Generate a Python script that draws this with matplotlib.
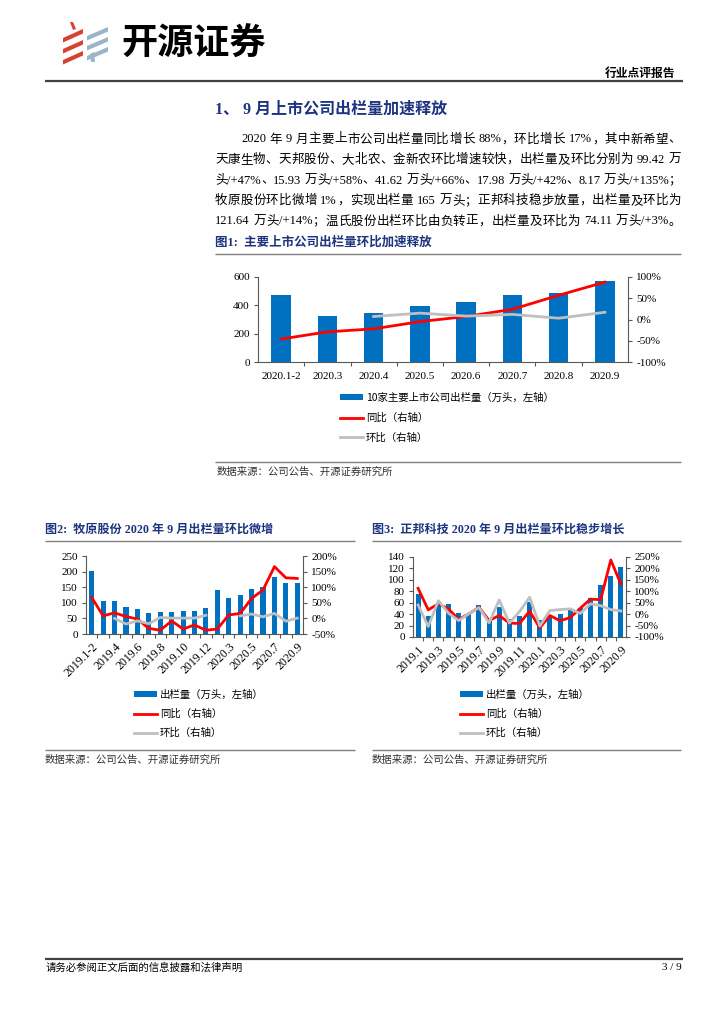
import re
import numpy as np
import matplotlib
matplotlib.use("Agg")
import matplotlib.pyplot as plt
from matplotlib.patches import Polygon
from matplotlib.ticker import FuncFormatter

plt.rcParams['font.family'] = ['Liberation Serif', 'Noto Sans CJK SC']
plt.rcParams['axes.unicode_minus'] = False

W, H = 724, 1024
nan = np.nan

# ---------------- data ----------------
f1_months = ["2020.1-2", "2020.3", "2020.4", "2020.5", "2020.6", "2020.7", "2020.8", "2020.9"]
f1_volume = [476, 325, 346, 395, 425, 472, 484, 570]
f1_yoy = [-46, -29, -22, -5, 7, 24, 57, 88]
f1_mom = [nan, nan, 7, 15, 8, 12, 3, 17]

f2_months = ["2019.1-2", "2019.3", "2019.4", "2019.5", "2019.6", "2019.7", "2019.8", "2019.9",
             "2019.10", "2019.11", "2019.12", "2020.1-2", "2020.3", "2020.4", "2020.5",
             "2020.6", "2020.7", "2020.8", "2020.9"]
f2_volume = [203, 105, 105, 88, 79, 67, 71, 72, 73, 74, 82, 140, 116, 124, 145, 152, 182, 164, 165]
f2_yoy = [67, 8, 18, 6, -2, -32, -38, -8, -34, -21, -38, -34, 11, 16, 64, 91, 166, 130, 128]
f2_mom = [nan, nan, 0, -18, -8, -17, 3, 1, 1, 1, 10, nan, nan, 8, 14, 5, 16, -9, 1]

f3_months = ["2019.1", "2019.2", "2019.3", "2019.4", "2019.5", "2019.6", "2019.7", "2019.8",
             "2019.9", "2019.10", "2019.11", "2019.12", "2020.1", "2020.2", "2020.3", "2020.4",
             "2020.5", "2020.6", "2020.7", "2020.8", "2020.9"]
f3_volume = [76, 36, 57, 58, 42, 41, 56, 28, 53, 31, 36, 62, 30, 36, 40, 47, 50, 69, 91, 107, 122]
f3_yoy = [113, 19, 45, 23, -23, 1, 30, -28, -6, -39, -41, 13, -60, -6, -29, -15, 26, 66, 63, 237, 131]
f3_mom = [40, -54, 59, 4, -28, 1, 29, -38, 62, -39, 11, 74, -52, 16, 20, 23, 3, 45, 37, 20, 14]

body_lines = [
    "2020 年 9 月主要上市公司出栏量同比增长 88%，环比增长 17%，其中新希望、",
    "天康生物、天邦股份、大北农、金新农环比增速较快，出栏量及环比分别为 99.42 万",
    "头/+47%、15.93 万头/+58%、41.62 万头/+66%、17.98 万头/+42%、8.17 万头/+135%；",
    "牧原股份环比微增 1%，实现出栏量 165 万头；正邦科技稳步放量，出栏量及环比为",
    "121.64 万头/+14%；温氏股份出栏环比由负转正，出栏量及环比为 74.11 万头/+3%。",
]

BLUE = "#0070C0"
RED = "#FF0000"
GRAY = "#BFBFBF"
NAVY = "#1F3480"
SPINE = "#595959"
CJK = ['Noto Sans CJK SC', 'DejaVu Sans']

fig = plt.figure(figsize=(W / 100, H / 100), dpi=100)
bg = fig.add_axes([0, 0, 1, 1])
bg.set_xlim(0, W)
bg.set_ylim(H, 0)
bg.axis('off')


def px_axes(x0, y0, x1, y1):
    return fig.add_axes([x0 / W, 1 - y1 / H, (x1 - x0) / W, (y1 - y0) / H])


def hline(y, x0, x1, color="#808080", lw=1.0):
    bg.plot([x0, x1], [y, y], color=color, lw=lw, solid_capstyle='butt')


# ---------------- header / logo ----------------
red_c, blue_c = "#D8412F", "#9DB3C6"
for k in range(3):
    yk = 29 + 11 * k
    bg.add_patch(Polygon([(63, yk + 9), (83, yk), (83, yk + 4.5), (63, yk + 13.5)], color=red_c, lw=0))
    yb = 27 + 10 * k
    bg.add_patch(Polygon([(87, yb + 9), (108, yb), (108, yb + 4.5), (87, yb + 13.5)], color=blue_c, lw=0))
bg.add_patch(Polygon([(70, 22), (73, 22), (76, 29), (73, 30)], color=red_c, lw=0))
bg.add_patch(Polygon([(90, 54), (94, 52), (95, 62), (91, 62)], color=blue_c, lw=0))
bg.text(121, 44, "开源证券", fontsize=26, fontweight='bold', family=CJK, va='center', ha='left')
bg.text(675, 73, "行业点评报告", fontsize=8.5, fontweight='bold', family=CJK, va='center', ha='right')
hline(80.5, 45, 683, color="#404040", lw=1.6)

# ---------------- section title & body ----------------
bg.text(215, 110, "1、 9 月上市公司出栏量加速释放", fontsize=11.5, fontweight='bold', color=NAVY,
        va='center', ha='left')

renderer = fig.canvas.get_renderer()


def justify(line, x0, x1, y, size):
    toks = re.findall(r"[!-~]+| |[^ ]", line)
    sp = size * 100 / 72 * 0.25
    arts, widths = [], []
    for t in toks:
        if t == " ":
            arts.append(None)
            widths.append(sp)
        else:
            a = bg.text(0, y, t, fontsize=size, va='baseline', ha='left')
            arts.append(a)
            widths.append(a.get_window_extent(renderer).width)
    gap = (x1 - x0 - sum(widths)) / (len(toks) - 1)
    x = x0
    for a, w in zip(arts, widths):
        if a is not None:
            a.set_x(x)
        x += w + gap


line_y = [138, 158.5, 179, 199.5, 220]
for i, (ln, yy) in enumerate(zip(body_lines, line_y)):
    justify(ln, 241 if i == 0 else 215, 681, yy + 4.5, 9)

# ---------------- chart helper ----------------
def chart(box, cats, vol, yoy, mom, ylim, lticks, rlim, rticks, bar_w, step, rot, xsize):
    ax = px_axes(*box)
    x = np.arange(len(cats))
    bars = ax.bar(x, vol, width=bar_w, color=BLUE, zorder=2)
    ax.set_xlim(-0.5, len(cats) - 0.5)
    ax.set_ylim(*ylim)
    ax.set_yticks(lticks)
    ax.set_xticks(x[::step])
    ax.set_xticks(np.arange(0.5, len(cats) - 1), minor=True)
    labels = ax.set_xticklabels(cats[::step], fontsize=xsize)
    if rot:
        plt.setp(labels, rotation=45, ha="right", rotation_mode="anchor")
    ax.tick_params(axis='x', which='major', length=0, pad=7 if not rot else 5)
    ax.tick_params(axis='x', which='minor', length=3, direction='out', color=SPINE, width=0.8)
    ax.tick_params(axis='y', length=3, direction='out', color=SPINE, width=0.8, labelsize=8, pad=3)

    ax2 = ax.twinx()
    l1, = ax2.plot(x, yoy, color=RED, lw=2, solid_joinstyle='round')
    l2, = ax2.plot(x, mom, color=GRAY, lw=2, solid_joinstyle='round')
    ax2.set_ylim(*rlim)
    ax2.set_yticks(rticks)
    ax2.yaxis.set_major_formatter(FuncFormatter(lambda v, p: f"{v:.0f}%"))
    ax2.tick_params(axis='y', length=3, direction='out', color=SPINE, width=0.8, labelsize=8, pad=3)

    for s in ('top', 'right'):
        ax.spines[s].set_visible(False)
    for s in ('top', 'left', 'bottom'):
        ax2.spines[s].set_visible(False)
    for s in ('left', 'bottom'):
        ax.spines[s].set_color(SPINE)
        ax.spines[s].set_linewidth(0.8)
    ax2.spines['right'].set_color(SPINE)
    ax2.spines['right'].set_linewidth(0.8)
    return ax, bars, l1, l2


def legend(ax, handles, labels, px, py, spacing):
    ax.legend(handles, labels, loc='upper left', bbox_to_anchor=(px / W, 1 - py / H),
              bbox_transform=fig.transFigure, frameon=False,
              handlelength=2.2, handleheight=0.5, handletextpad=0.3, labelspacing=spacing,
              borderpad=0, borderaxespad=0, prop={'family': CJK, 'size': 7.5})


# ---------------- figure 1 ----------------
bg.text(215, 243, "图1:  主要上市公司出栏量环比加速释放", fontsize=9, fontweight='bold', color=NAVY,
        va='center', ha='left')
hline(253.5, 215, 681)
ax1, b1, r1, g1 = chart((258, 277, 628, 362), f1_months, f1_volume, f1_yoy, f1_mom,
                        (0, 600), [0, 200, 400, 600], (-100, 100), [-100, -50, 0, 50, 100],
                        0.42, 1, False, 8)
legend(ax1, [b1, r1, g1], ["10家主要上市公司出栏量（万头，左轴）", "同比（右轴）", "环比（右轴）"],
       340, 393, 0.92)
hline(462, 215, 681)
bg.text(217, 472, "数据来源：公司公告、开源证券研究所", fontsize=7.5, family=CJK, va='center', ha='left',
        color="#333333")

# ---------------- figure 2 ----------------
bg.text(45, 530, "图2:  牧原股份 2020 年 9 月出栏量环比微增", fontsize=8.7, fontweight='bold', color=NAVY,
        va='center', ha='left')
hline(541, 45, 355)
ax2_, b2, r2, g2 = chart((86, 556, 303, 634), f2_months, f2_volume, f2_yoy, f2_mom,
                         (0, 250), [0, 50, 100, 150, 200, 250], (-50, 200), [-50, 0, 50, 100, 150, 200],
                         0.45, 2, True, 8.5)
legend(ax2_, [b2, r2, g2], ["出栏量（万头，左轴）", "同比（右轴）", "环比（右轴）"], 134, 690, 0.85)
hline(750, 45, 355)
bg.text(45, 760, "数据来源：公司公告、开源证券研究所", fontsize=7.5, family=CJK, va='center', ha='left',
        color="#333333")

# ---------------- figure 3 ----------------
bg.text(372, 530, "图3:  正邦科技 2020 年 9 月出栏量环比稳步增长", fontsize=8.7, fontweight='bold', color=NAVY,
        va='center', ha='left')
hline(541, 372, 681)
ax3, b3, r3, g3 = chart((413, 557, 626, 637), f3_months, f3_volume, f3_yoy, f3_mom,
                        (0, 140), list(range(0, 141, 20)), (-100, 250), list(range(-100, 251, 50)),
                        0.5, 2, True, 8.5)
legend(ax3, [b3, r3, g3], ["出栏量（万头，左轴）", "同比（右轴）", "环比（右轴）"], 460, 690, 0.85)
hline(750, 372, 681)
bg.text(372, 760, "数据来源：公司公告、开源证券研究所", fontsize=7.5, family=CJK, va='center', ha='left',
        color="#333333")

# ---------------- footer ----------------
hline(959, 45, 683, color="#404040", lw=1.6)
bg.text(46, 968, "请务必参阅正文后面的信息披露和法律声明", fontsize=7.5, family=CJK, va='center', ha='left')
bg.text(682, 968, "3 / 9", fontsize=8, va='center', ha='right')

fig.savefig("out.png", dpi=100)
